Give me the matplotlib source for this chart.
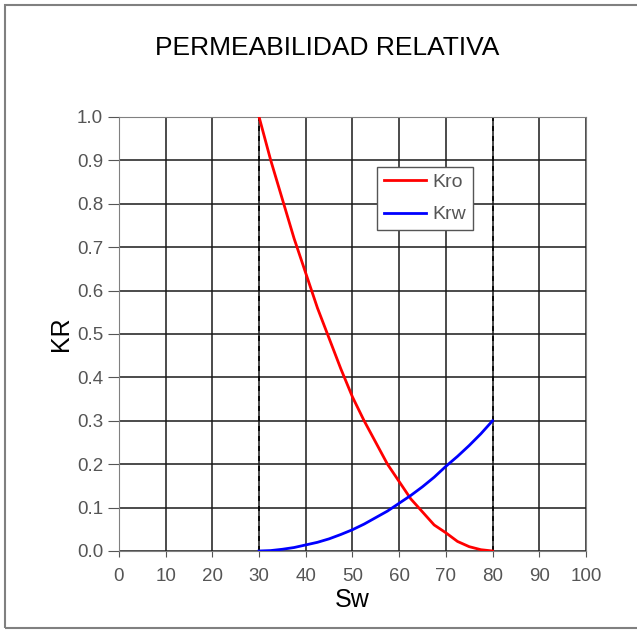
import matplotlib
matplotlib.use('Agg')
import matplotlib.pyplot as plt

plt.rcParams['font.family'] = ['Liberation Sans', 'DejaVu Sans']

# Saturacion de agua (%) y permeabilidades relativas
sw = [30, 32.5, 35, 37.5, 40, 42.5, 45, 47.5, 50, 52.5, 55,
      57.5, 60, 62.5, 65, 67.5, 70, 72.5, 75, 77.5, 80]
kro = [1.0, 0.90, 0.81, 0.72, 0.64, 0.56, 0.49, 0.42, 0.355, 0.30, 0.25,
       0.20, 0.16, 0.12, 0.09, 0.06, 0.042, 0.022, 0.01, 0.003, 0.0]
krw = [0.0, 0.001, 0.004, 0.008, 0.014, 0.02, 0.028, 0.038, 0.049, 0.062, 0.077,
       0.092, 0.11, 0.128, 0.148, 0.17, 0.195, 0.218, 0.243, 0.27, 0.30]

x_ticks = list(range(0, 101, 10))
y_ticks = [i / 10 for i in range(11)]
swc, swmax = 30, 80

fig = plt.figure(figsize=(6.37, 6.3), dpi=100)
ax = fig.add_axes([0.1868, 0.1254, 0.733, 0.689])

# marco exterior de la imagen
fig.patches.append(plt.Rectangle((0.008, 0.003), 0.995, 0.989, transform=fig.transFigure,
                                 fill=False, edgecolor='#808080', linewidth=1.5))

ax.plot(sw, kro, color='red', linewidth=2, label='Kro', zorder=3)
ax.plot(sw, krw, color='blue', linewidth=2, label='Krw', zorder=3)
ax.axvline(swc, color='black', linestyle=(0, (3, 3)), linewidth=1.2, zorder=2)
ax.axvline(swmax, color='black', linestyle=(0, (3, 3)), linewidth=1.2, zorder=2)

ax.set_xlim(0, 100)
ax.set_ylim(0, 1.0)
ax.set_xticks(x_ticks)
ax.set_yticks(y_ticks)
ax.set_yticklabels([f'{v:.1f}' for v in y_ticks])
ax.grid(True, color='#1a1a1a', linewidth=1.1)
ax.tick_params(direction='out', color='#555555', labelsize=13.5, labelcolor='#555555')
ax.tick_params(axis='y', length=8, pad=3.5)
ax.tick_params(axis='x', length=4.5, pad=8)
for s in ax.spines.values():
    s.set_color('#808080')

fig.text(327 / 637, 1 - 48 / 630, 'PERMEABILIDAD RELATIVA', fontsize=19,
         ha='center', va='center')
ax.set_xlabel('Sw', fontsize=18)
ax.xaxis.set_label_coords(0.5, -0.085)
ax.set_ylabel('KR', fontsize=18)
ax.yaxis.set_label_coords(-0.098, 0.5)

leg = ax.legend(loc='upper left', bbox_to_anchor=(0.552, 0.885), fontsize=14,
                fancybox=False, framealpha=1, edgecolor='#555555',
                handlelength=2.2, handletextpad=0.3, borderpad=0.35,
                labelspacing=0.75, borderaxespad=0)
for t in leg.get_texts():
    t.set_color('#555555')

plt.savefig('out.png', dpi=100)
